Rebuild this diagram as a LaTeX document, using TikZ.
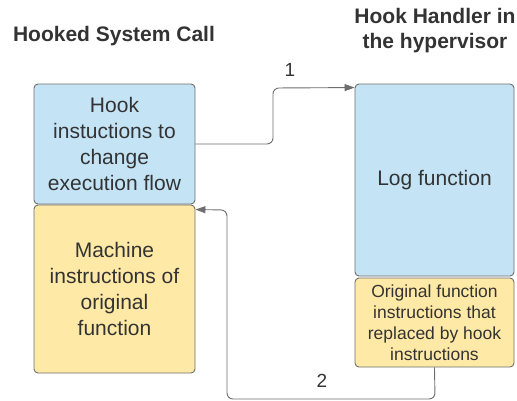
\documentclass[tikz,border=0pt]{standalone}
\usepackage{fontspec}
\setmainfont{Liberation Sans}
\usepackage{tikz}
\usetikzlibrary{arrows.meta, positioning}
\definecolor{hookblue}{HTML}{C4E4F6}
\definecolor{hookyellow}{HTML}{FFE9A6}
\definecolor{edgegray}{HTML}{6E6E6E}
\definecolor{textgray}{HTML}{333333}

\begin{document}
\begin{tikzpicture}[x=1pt, y=-1pt,
    box/.style={draw=edgegray, line width=0.9pt, rounded corners=4pt, align=center, text=textgray, inner sep=0pt},
    bigtext/.style={font=\fontsize{21}{26}\selectfont},
    smalltext/.style={font=\fontsize{17.5}{21}\selectfont},
    title/.style={font=\fontsize{21}{25}\selectfont\bfseries, text=textgray, align=center},
    signal/.style={-{Triangle[length=10pt, width=7pt]}, draw=edgegray, line width=0.9pt, rounded corners=6pt},
    label/.style={font=\fontsize{19}{22}\selectfont, text=textgray}
]
\useasboundingbox (0,0) rectangle (517,400);

% Titles
\node[title] (lefttitle) at (114,36) {Hooked System Call};
\node[title] (righttitle) at (435,31) {Hook Handler in\\the hypervisor};

% Hooked system call
\node[box, bigtext, fill=hookblue, minimum width=161pt, minimum height=120pt] (hook) at (114.5,144) {Hook\\instuctions to\\change\\execution flow};
\node[box, bigtext, fill=hookyellow, minimum width=161pt, minimum height=168pt] (machine) at (114.5,289) {Machine\\instructions of\\original\\function};

% Hook handler
\node[box, bigtext, fill=hookblue, minimum width=159pt, minimum height=192pt] (log) at (434.5,180) {Log function};
\node[box, smalltext, fill=hookyellow, minimum width=159pt, minimum height=89pt] (orig) at (434.5,322.5) {Original function\\instructions that\\replaced by hook\\instructions};

% Step 1: jump to the handler
\draw[signal] (hook.east) -- (273,144) -- (273,88) -- ([yshift=-4pt]log.north west);
\node[label] (one) at (290,70) {1};

% Step 2: back to the original code
\draw[signal] (orig.south) -- (435,399) -- (227,399) -- (227,210) -- ([yshift=-5pt]machine.north east);
\node[label] (two) at (322,381) {2};

\end{tikzpicture}
\end{document}
